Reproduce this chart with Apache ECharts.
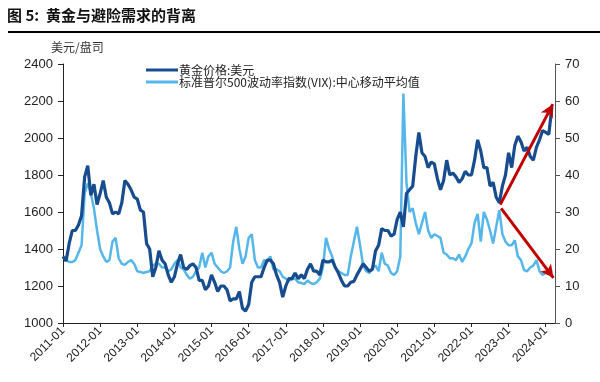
<!DOCTYPE html>
<html>
<head>
<meta charset="utf-8">
<script src="https://cdn.jsdelivr.net/npm/echarts@6/dist/echarts.min.js"></script>
<style>
html,body{margin:0;padding:0;background:#fff;}
#chart{width:600px;height:382px;}
</style>
</head>
<body>
<div id="chart"></div>
<script>
// X tick labels (one per January); x values are month index from 2011-01
const tickLabels = ['2011-01','2012-01','2013-01','2014-01','2015-01','2016-01','2017-01','2018-01','2019-01','2020-01','2021-01','2022-01','2023-01','2024-01'];

// Gold price, USD/oz, monthly from 2011-01 to 2024-03
const goldPrice = [
  1360,1335,1430,1500,1500,1530,1580,1790,1850,1690,1750,1640,
  1700,1770,1680,1650,1590,1600,1590,1650,1770,1750,1720,1680,
  1670,1610,1600,1430,1400,1250,1300,1390,1340,1320,1260,1220,
  1250,1320,1370,1300,1290,1310,1320,1300,1230,1230,1180,1200,
  1260,1220,1170,1200,1200,1180,1120,1130,1130,1170,1080,1065,
  1100,1220,1250,1250,1250,1300,1340,1340,1320,1260,1220,1140,
  1200,1240,1240,1270,1240,1260,1240,1290,1320,1280,1280,1260,
  1340,1330,1330,1340,1300,1270,1230,1200,1200,1220,1225,1260,
  1290,1320,1300,1280,1290,1390,1420,1510,1500,1500,1470,1480,
  1560,1600,1520,1700,1720,1740,1900,2030,1920,1900,1840,1870,
  1860,1780,1720,1770,1880,1800,1810,1790,1760,1780,1820,1800,
  1800,1880,1990,1930,1840,1840,1740,1760,1680,1650,1740,1800,
  1920,1840,1960,2010,1980,1930,1950,1900,1880,1950,1990,2040,
  2030,2020,2170
];

// S&P 500 VIX, centred moving average, monthly from 2011-01 to 2024-03
const vixMA = [
  17.8,17,16.5,16.5,17,19,21,35,37.8,35,31,25,
  20,18,16.5,17,22,23,17.5,16,15.7,16.5,17,16,
  14,13.8,13.5,13.8,14,15.5,16,16,15,15,14,14.5,
  16,17,15,14.5,13,12,12.5,14,15,19,15,18,
  19,16,15,14,13.5,14,15,22,26,20,16,18,
  23,24,17,15,15,17,16.5,18,14.5,14.5,14,12.5,
  12,11.5,11.8,12,11,10.8,10.5,11.5,10.8,10.5,11,12,
  15,23,20,18,15,14,13.5,13,13,18,22,26,
  21,15.5,14,13.5,15,15.5,14,19,16,15.5,13.5,13,
  14,18,62,38,30,31,27,24,27,30,25,23,
  24,23.5,23,19,18.5,17.5,17.5,17,18.5,16.5,18,20,
  21.5,27,29.5,22,30,28,25,21.5,26,30.5,24,22,
  21,21,22.4,18,17,14.3,14,15,15.5,17,14,13,
  13.5,13.5,14.3
];

// Annotation arrows: [monthIndex, value] start / end
const goldArrow = [[141.3, 1640], [158.3, 2183]];
const vixArrow = [[141.6, 31], [158.5, 12.2]];

const goldPts = goldPrice.map((v, i) => [i, v]);
const vixPts = vixMA.map((v, i) => [i, v]);

const chart = echarts.init(document.getElementById('chart'), null, {renderer: 'canvas'});
const axisFont = {fontFamily: 'Liberation Sans, Arial, sans-serif', fontSize: 12, color: '#222'};

chart.setOption({
  animation: false,
  backgroundColor: '#fff',
  grid: {left: 63, right: 45, top: 64, bottom: 59, containLabel: false},
  graphic: [
    {type: 'text', left: 7, top: 8, style: {text: '图 5:  黄金与避险需求的背离', font: 'bold 15px "Noto Sans CJK SC", sans-serif', fill: '#111'}},
    {type: 'line', shape: {x1: 8, y1: 32, x2: 600, y2: 32}, style: {stroke: '#000', lineWidth: 2}},
    {type: 'text', left: 51, top: 41, style: {text: '美元/盘司', font: '12px "Noto Sans CJK SC", sans-serif', fill: '#333'}}
  ],
  legend: {
    orient: 'vertical',
    left: 141,
    top: 59,
    icon: 'rect',
    itemWidth: 32,
    itemHeight: 3,
    itemGap: 0,
    textStyle: {fontFamily: '"Noto Sans CJK SC", sans-serif', fontSize: 12, color: '#222', padding: [0, 0, 0, -4], lineHeight: 12},
    data: ['黄金价格:美元', '标准普尔500波动率指数(VIX):中心移动平均值']
  },
  xAxis: {
    type: 'value',
    min: 0,
    max: 159,
    interval: 12,
    axisLine: {show: true, lineStyle: {color: '#222', width: 1}},
    axisTick: {show: true, length: 4, lineStyle: {color: '#222'}},
    splitLine: {show: false},
    axisLabel: Object.assign({}, axisFont, {
      fontSize: 12,
      rotate: 45,
      margin: 6,
      showMaxLabel: false,
      formatter: v => (v % 12 === 0 && tickLabels[v / 12]) ? tickLabels[v / 12] : ''
    })
  },
  yAxis: [
    {
      type: 'value', min: 1000, max: 2400, interval: 200,
      axisLine: {show: true, lineStyle: {color: '#222'}},
      axisTick: {show: true, length: 5, lineStyle: {color: '#222'}},
      splitLine: {show: false},
      axisLabel: Object.assign({}, axisFont, {fontSize: 13, margin: 10, formatter: v => String(v)})
    },
    {
      type: 'value', min: 0, max: 70, interval: 10, position: 'right',
      axisLine: {show: true, lineStyle: {color: '#555'}},
      axisTick: {show: true, length: 5, lineStyle: {color: '#555'}},
      splitLine: {show: false},
      axisLabel: Object.assign({}, axisFont, {fontSize: 13, margin: 10, formatter: v => String(v)})
    }
  ],
  series: [
    {
      name: '黄金价格:美元',
      type: 'line',
      yAxisIndex: 0,
      data: goldPts,
      symbol: 'none',
      z: 3,
      lineStyle: {color: '#174C8E', width: 3.2},
      itemStyle: {color: '#174C8E'},
      markLine: {
        silent: true,
        symbol: ['none', 'arrow'],
        symbolSize: [10, 13],
        label: {show: false},
        lineStyle: {color: '#C00000', width: 3, type: 'solid'},
        data: [[{coord: goldArrow[0]}, {coord: goldArrow[1]}]]
      }
    },
    {
      name: '标准普尔500波动率指数(VIX):中心移动平均值',
      type: 'line',
      yAxisIndex: 1,
      data: vixPts,
      symbol: 'none',
      z: 2,
      lineStyle: {color: '#55B6EA', width: 2.5},
      itemStyle: {color: '#55B6EA'},
      markLine: {
        silent: true,
        symbol: ['none', 'arrow'],
        symbolSize: [10, 13],
        label: {show: false},
        lineStyle: {color: '#C00000', width: 3, type: 'solid'},
        data: [[{coord: vixArrow[0]}, {coord: vixArrow[1]}]]
      }
    }
  ]
});
</script>
</body>
</html>
